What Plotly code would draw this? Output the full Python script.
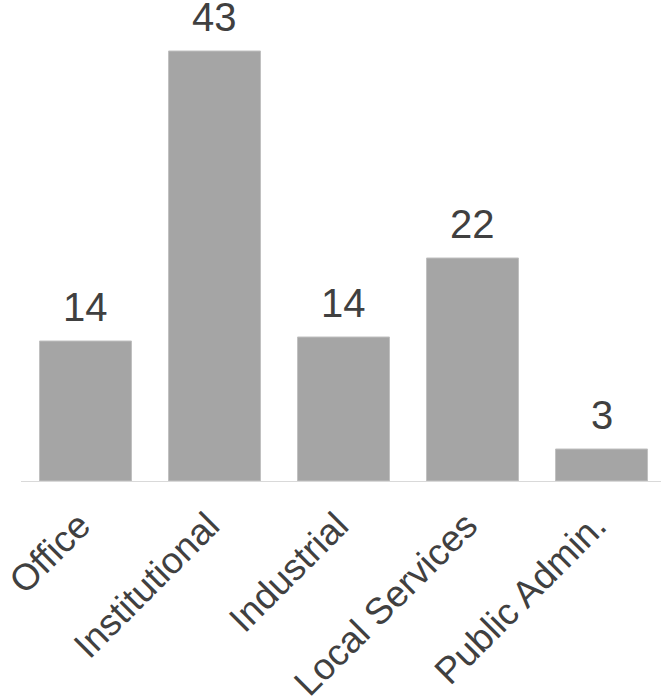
import plotly.graph_objects as go

categories = ["Office", "Institutional", "Industrial", "Local Services", "Public Admin."]
values = [14.0, 43.0, 14.4, 22.3, 3.2]

fig = go.Figure()
fig.add_trace(go.Bar(
    x=categories, y=values,
    marker=dict(color="#a5a5a5", line=dict(color="#c0c0c0", width=1)),
    width=0.713,
    hoverinfo="skip",
))

for c, v in zip(categories, values):
    fig.add_annotation(
        x=c, y=v, text=f"{v:.0f}", showarrow=False,
        yanchor="bottom", yshift=10,
        font=dict(family="Liberation Sans, Arial, sans-serif", size=40, color="#404040"),
    )

fig.update_layout(
    width=661, height=700,
    margin=dict(l=21, r=0, t=20, b=219),
    plot_bgcolor="white", paper_bgcolor="white",
    showlegend=False,
    font=dict(family="Liberation Sans, Arial, sans-serif", color="#404040"),
    xaxis=dict(
        range=[-0.5, 4.461], automargin=False,
        showline=True, linecolor="#d9d9d9", linewidth=1,
        showgrid=False, zeroline=False, ticks="",
        tickangle=-45,
        tickfont=dict(size=37, color="#404040"),
        ticklabelstandoff=7, ticklabelshift=-6,
    ),
    yaxis=dict(
        range=[0, 46.1], visible=False, showgrid=False, zeroline=False,
        automargin=False,
    ),
)

fig.write_html("out.html", config={"displayModeBar": False},
               post_script="document.body.style.margin='0';")
